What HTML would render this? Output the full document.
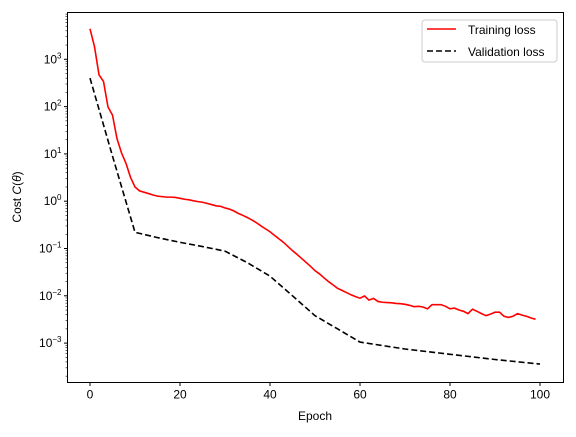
<!DOCTYPE html>
<html><head><meta charset="utf-8"><style>
body{margin:0;background:#fff;font-family:"Liberation Sans",sans-serif}
svg text{font-family:"Liberation Sans",sans-serif;font-size:12px;fill:#000}
</style></head><body>
<svg id="chart" width="576" height="432" xmlns="http://www.w3.org/2000/svg">
<g id="grid"></g>
<g id="series"></g>
<rect x="67.5" y="12.5" width="496" height="370" fill="none" stroke="#000" stroke-width="1"/>
<text x="315" y="420" text-anchor="middle">Epoch</text>
<text transform="translate(21,197) rotate(-90)" text-anchor="middle">Cost <tspan font-style="italic">C</tspan>(<tspan font-style="italic">θ</tspan>)</text>
<g>
<rect x="422" y="20" width="135" height="42" rx="3" fill="#fff" stroke="#ccc"/>
<line x1="427" y1="29" x2="456" y2="29" stroke="#f00" stroke-width="1.6"/>
<text x="468" y="34">Training loss</text>
<line x1="427" y1="51" x2="456" y2="51" stroke="#000" stroke-width="1.6" stroke-dasharray="6,3"/>
<text x="468" y="56">Validation loss</text>
</g>
</svg>
<script>
const trainLoss=[4400,1850,470,340,98,66,21,10.5,6.3,3.2,2.0,1.65,1.55,1.45,1.35,1.28,1.25,1.22,1.22,1.2,
1.15,1.1,1.07,1.02,0.98,0.95,0.9,0.85,0.8,0.78,0.72,0.68,0.62,0.55,0.5,0.45,0.4,0.35,0.3,0.26,0.226,
0.19,0.16,0.135,0.11,0.09,0.075,0.062,0.051,0.042,0.034,0.029,0.024,0.02,0.017,0.0144,0.013,0.0117,0.0105,0.0096,0.0089,
0.0099,0.0081,0.0088,0.0076,0.0073,0.0072,0.0071,0.0069,0.0068,0.0066,0.0063,0.0059,0.006,0.0058,0.0053,0.0065,0.0065,0.0065,0.006,0.0053,
0.0055,0.005,0.0047,0.0042,0.0052,0.0047,0.0042,0.0038,0.0041,0.0045,0.0045,0.0037,0.0035,0.0037,0.0042,0.0039,0.0037,0.0034,0.0032];
const valEpochs=[0,5,10,15,20,25,30,35,40,45,50,55,60,70,80,90,100];
const valLoss=[400,9,0.22,0.17,0.135,0.11,0.088,0.05,0.026,0.01,0.0038,0.002,0.00105,0.00075,0.00058,0.00045,0.00036];
const xTicks=[0,20,40,60,80,100];
const yTickExps=[-3,-2,-1,0,1,2,3];
const NS="http://www.w3.org/2000/svg";
const X0=90,XS=4.5,Y3=59.3,DEC=47.3,BOT=382.5,LEFT=67.5;
function xs(e){return X0+XS*e;}
function ys(v){return Y3+(3-Math.log10(v))*DEC;}
function mk(tag,attrs,parent){const el=document.createElementNS(NS,tag);for(const k in attrs)el.setAttribute(k,attrs[k]);parent.appendChild(el);return el;}
const grid=document.getElementById('grid'),ser=document.getElementById('series');
xTicks.forEach(t=>{
 const x=xs(t);
 const l=mk('line',{x1:x,x2:x,y1:BOT,y2:BOT+3.5,stroke:'#000'},grid);
 
 
 const tx=mk('text',{x:x,y:BOT+16,'text-anchor':'middle'},grid);
 
 
 tx.textContent=t;
});
for(let e=-4;e<=3;e++){
 for(let m=1;m<10;m++){
  const y=ys(m*Math.pow(10,e));
  if(y<12.5||y>BOT)continue;
  const l=mk('line',{x1:LEFT,x2:LEFT-(m==1?3.5:2),y1:y,y2:y,stroke:'#000','stroke-width':m==1?1:0.6},grid);
  
  
 }
}
yTickExps.forEach(p=>{
 const y=ys(Math.pow(10,p));
 const tx=mk('text',{x:LEFT-6,y:y+4,'text-anchor':'end'},grid);
 
 
 tx.innerHTML='10<tspan dy="-5" font-size="8">'+(p<0?'−'+(-p):p)+'</tspan>';
});
const tp=mk('polyline',{points:trainLoss.map((v,i)=>xs(i)+','+ys(v)).join(' '),fill:'none',stroke:'#f00','stroke-width':1.6},ser);


const vp=mk('polyline',{points:valLoss.map((v,i)=>xs(valEpochs[i])+','+ys(v)).join(' '),fill:'none',stroke:'#000','stroke-width':1.6,'stroke-dasharray':'6,3'},ser);


</script>
</body></html>
